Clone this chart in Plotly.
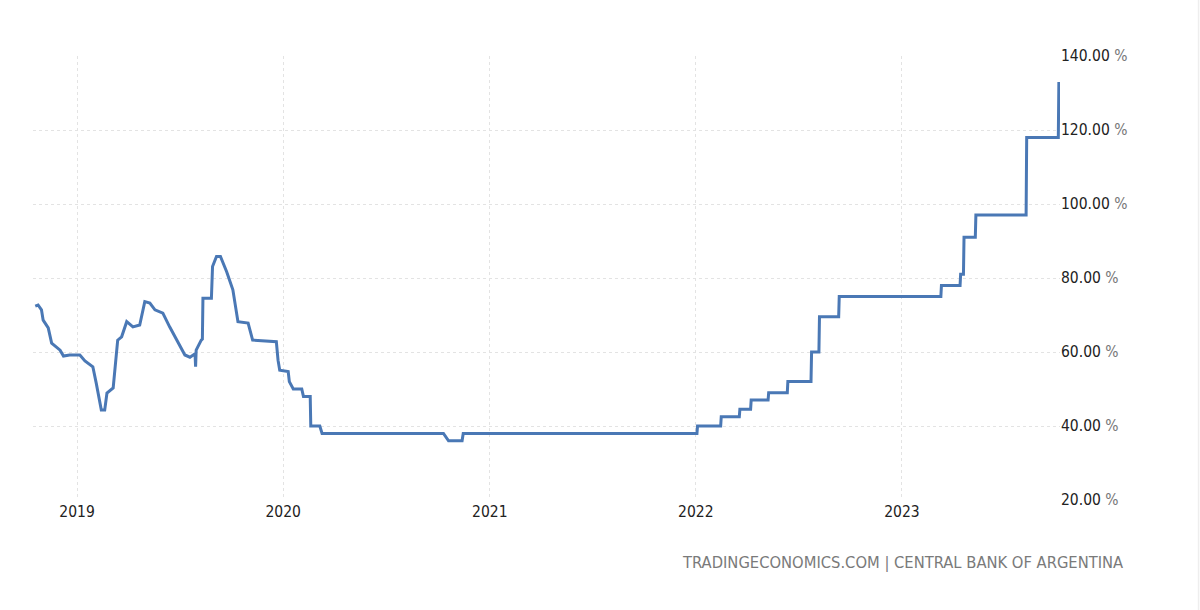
import plotly.graph_objects as go

dates = [
    "2018-10-19", "2018-10-24", "2018-10-30", "2018-11-02", "2018-11-11", "2018-11-17",
    "2018-12-02", "2018-12-08", "2018-12-19", "2019-01-06", "2019-01-15", "2019-01-29",
    "2019-02-04", "2019-02-13", "2019-02-19", "2019-02-23", "2019-03-06", "2019-03-11",
    "2019-03-14", "2019-03-21", "2019-03-30", "2019-04-10", "2019-04-22", "2019-05-01",
    "2019-05-10", "2019-05-19", "2019-06-02", "2019-06-14", "2019-06-29", "2019-07-11",
    "2019-07-20", "2019-07-29", "2019-07-30", "2019-07-31", "2019-08-09", "2019-08-11",
    "2019-08-12", "2019-08-27", "2019-08-29", "2019-09-05", "2019-09-12", "2019-09-23",
    "2019-10-04", "2019-10-13", "2019-10-31", "2019-11-08", "2019-12-20", "2019-12-23",
    "2019-12-26", "2020-01-07", "2020-01-10", "2020-01-12", "2020-01-19", "2020-02-03",
    "2020-02-06", "2020-02-18", "2020-02-19", "2020-03-06", "2020-03-10", "2020-10-11",
    "2020-10-20", "2020-11-13", "2020-11-15", "2022-01-03", "2022-01-04", "2022-02-14",
    "2022-02-15", "2022-03-19", "2022-03-20", "2022-04-08", "2022-04-09", "2022-05-09",
    "2022-05-10", "2022-06-12", "2022-06-13", "2022-07-24", "2022-07-25", "2022-08-07",
    "2022-08-08", "2022-09-11", "2022-09-12", "2023-03-11", "2023-03-12", "2023-04-14",
    "2023-04-15", "2023-04-20", "2023-04-21", "2023-05-11", "2023-05-12", "2023-08-09",
    "2023-08-10", "2023-10-05", "2023-10-06",
]
rates = [
    72.4, 72.7, 71.4, 68.6, 66.5, 62.4,
    60.5, 58.9, 59.2, 59.2, 57.6, 56.0,
    51.6, 44.3, 44.3, 48.9, 50.3, 57.8,
    63.2, 64.1, 68.2, 66.8, 67.3, 73.6,
    73.2, 71.4, 70.5, 66.8, 62.4, 59.2,
    58.6, 59.5, 56.0, 60.5, 63.2, 63.5,
    74.5, 74.5, 83.1, 85.8, 85.8, 81.7,
    76.8, 68.2, 67.8, 63.2, 62.8, 57.8,
    55.1, 54.7, 54.7, 52.0, 50.0, 50.0,
    48.0, 48.0, 40.0, 40.0, 38.0, 38.0,
    36.0, 36.0, 38.0, 38.0, 40.0, 40.0,
    42.5, 42.5, 44.5, 44.5, 47.0, 47.0,
    49.0, 49.0, 52.0, 52.0, 60.0, 60.0,
    69.5, 69.5, 75.0, 75.0, 78.0, 78.0,
    81.0, 81.0, 91.0, 91.0, 97.0, 97.0,
    118.0, 118.0, 133.0,
]

y_ticks = [20, 40, 60, 80, 100, 120, 140]
y_tick_text = [f"{v:.2f} <span style='color:#777777'>%</span>" for v in y_ticks]
x_ticks = ["2019-01-01", "2020-01-01", "2021-01-01", "2022-01-01", "2023-01-01"]
x_tick_text = ["2019", "2020", "2021", "2022", "2023"]
source_text = "TRADINGECONOMICS.COM | CENTRAL BANK OF ARGENTINA"

FONT = "DejaVu Sans Condensed, DejaVu Sans"

fig = go.Figure()
fig.add_trace(go.Scatter(
    x=dates, y=rates, mode="lines",
    line=dict(color="#4a78b5", width=3),
    hoverinfo="skip", showlegend=False,
))

fig.update_layout(
    width=1200, height=610,
    margin=dict(l=33, r=140, t=56, b=110),
    paper_bgcolor="white", plot_bgcolor="white",
    font=dict(family=FONT, size=15.5, color="#222222"),
    xaxis=dict(
        range=["2018-10-15", "2023-10-08"],
        tickvals=x_ticks, ticktext=x_tick_text,
        showgrid=True, gridcolor="#e3e3e3", griddash="dot", gridwidth=1,
        zeroline=False, showline=False, ticks="",
        tickfont=dict(family=FONT, size=15.5, color="#222222"),
    ),
    yaxis=dict(
        range=[20, 140], side="right",
        tickvals=y_ticks, ticktext=y_tick_text,
        showgrid=True, gridcolor="#e3e3e3", griddash="dot", gridwidth=1,
        zeroline=False, showline=False, ticks="",
        tickfont=dict(family=FONT, size=15.5, color="#222222"),
    ),
    annotations=[dict(
        text=source_text, xref="paper", yref="paper",
        x=1.063, y=-0.14, xanchor="right", yanchor="middle",
        showarrow=False, font=dict(family=FONT, size=16.4, color="#7a7a7a"),
    )],
    shapes=[dict(
        type="line", xref="paper", yref="paper",
        x0=1.1349, x1=1.1349, y0=-0.25, y1=1.13,
        line=dict(color="#eeeeee", width=1.5),
    )],
)

fig.write_html("out.html")
